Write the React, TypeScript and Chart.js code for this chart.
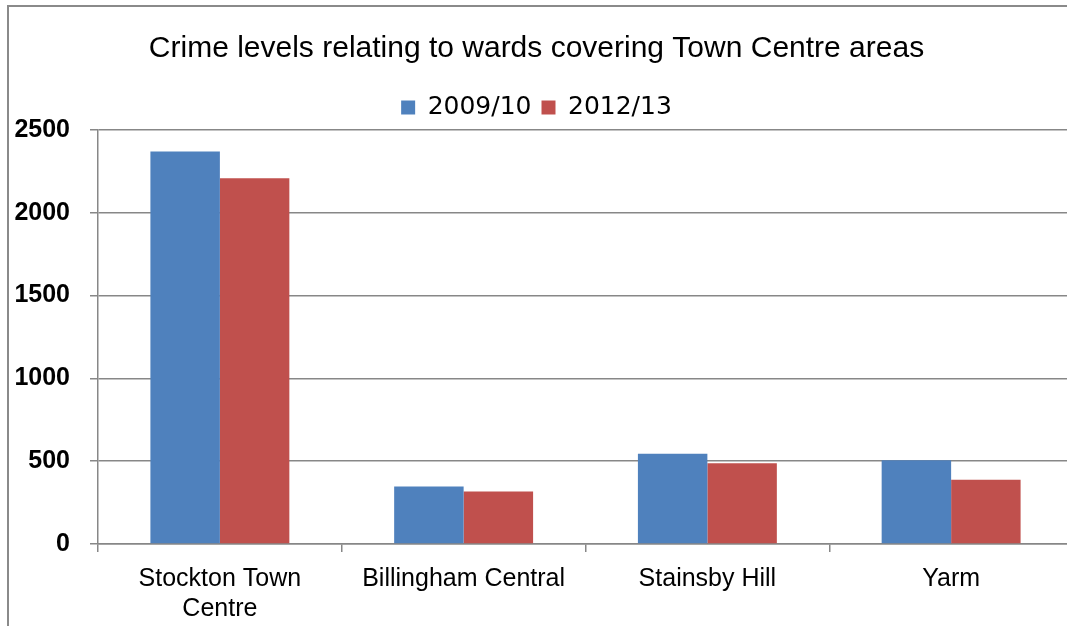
import React, { useEffect, useRef } from "react";
import { Chart, registerables } from "chart.js";

Chart.register(...registerables);

const categories: (string | string[])[] = [
  ["Stockton Town", "Centre"],
  "Billingham Central",
  "Stainsby Hill",
  "Yarm",
];
const series2009: number[] = [2370, 347, 545, 505];
const series2012: number[] = [2208, 317, 488, 388];
const seriesLabels: string[] = ["2009/10", "2012/13"];
const chartTitle = "Crime levels relating to wards covering Town Centre areas";

const BLUE = "#4F81BD";
const RED = "#C0504D";
const GRID = "#878787";

export default function App() {
  const ref = useRef<HTMLCanvasElement | null>(null);

  useEffect(() => {
    if (!ref.current) return;
    const chart = new Chart(ref.current, {
      type: "bar",
      data: {
        labels: categories,
        datasets: [
          {
            label: seriesLabels[0],
            data: series2009,
            backgroundColor: BLUE,
            borderWidth: 0,
            barPercentage: 1,
            categoryPercentage: 0.57,
          },
          {
            label: seriesLabels[1],
            data: series2012,
            backgroundColor: RED,
            borderWidth: 0,
            barPercentage: 1,
            categoryPercentage: 0.57,
          },
        ],
      },
      options: {
        animation: false,
        responsive: false,
        maintainAspectRatio: false,
        layout: { padding: { left: 0, right: 8, top: 0, bottom: 0 } },
        plugins: {
          tooltip: { enabled: false },
          title: {
            display: true,
            text: chartTitle,
            color: "#000",
            font: { family: "'Liberation Sans', Arial, sans-serif", size: 30, weight: "normal" },
            padding: { top: 31, bottom: 18 },
          },
          legend: {
            display: true,
            position: "top",
            labels: {
              color: "#000",
              boxWidth: 14,
              boxHeight: 14,
              padding: 10,
              font: { family: "'DejaVu Sans', sans-serif", size: 25 },
            },
          },
        },
        scales: {
          x: {
            afterFit: (axis: any) => {
              axis.height = 82;
            },
            grid: {
              display: true,
              offset: true,
              drawOnChartArea: false,
              drawTicks: true,
              tickLength: 8,
              color: GRID,
              lineWidth: 1.5,
            },
            border: { display: true, color: GRID, width: 1.5 },
            ticks: {
              color: "#000",
              padding: 12,
              maxRotation: 0,
              autoSkip: false,
              font: { family: "'Liberation Sans', Arial, sans-serif", size: 25, lineHeight: 1.2 },
            },
          },
          y: {
            min: 0,
            max: 2500,
            afterFit: (axis: any) => {
              axis.width = 98;
            },
            grid: {
              color: GRID,
              lineWidth: 1.5,
              tickLength: 8,
              drawTicks: true,
            },
            border: { display: true, color: GRID, width: 1.5 },
            ticks: {
              stepSize: 500,
              color: "#000",
              padding: 20,
              callback: (v: any) => String(v),
              font: { family: "'Liberation Sans', Arial, sans-serif", size: 25, weight: "bold" },
            },
          },
        },
      },
    });
    return () => chart.destroy();
  }, []);

  return (
    <div
      style={{
        position: "fixed",
        left: 0,
        top: 0,
        width: 1067,
        height: 626,
        background: "#fff",
        overflow: "hidden",
      }}
    >
      <div
        style={{
          position: "absolute",
          left: 7,
          top: 5,
          width: 1100,
          height: 700,
          borderTop: "2px solid #8a8a8a",
          borderLeft: "2px solid #8a8a8a",
          boxSizing: "border-box",
        }}
      />
      <canvas
        ref={ref}
        width={1081}
        height={626}
        style={{ position: "absolute", left: 0, top: 0, width: 1081, height: 626 }}
      />
    </div>
  );
}
